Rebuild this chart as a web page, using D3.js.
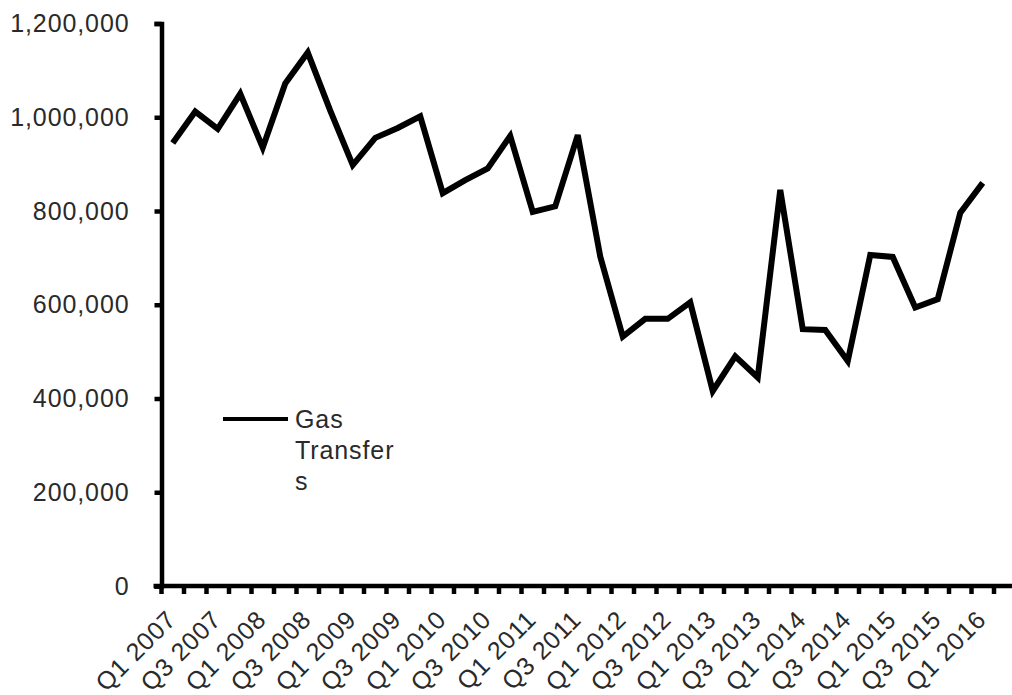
<!DOCTYPE html>
<html>
<head>
<meta charset="utf-8">
<script src="https://cdn.jsdelivr.net/npm/d3@7"></script>
<style>
  html, body { margin: 0; padding: 0; background: #fff; }
  svg { display: block; }
  text { font-family: "Liberation Sans", Arial, sans-serif; fill: #2a2a2a; }
</style>
</head>
<body>
<svg id="chart" width="1012" height="695"></svg>
<script>
// Quarterly gas transfers, Q1 2007 – Q1 2016 (Q2 2016 slot not yet reported)
const quarters = [
  "Q1 2007","Q2 2007","Q3 2007","Q4 2007",
  "Q1 2008","Q2 2008","Q3 2008","Q4 2008",
  "Q1 2009","Q2 2009","Q3 2009","Q4 2009",
  "Q1 2010","Q2 2010","Q3 2010","Q4 2010",
  "Q1 2011","Q2 2011","Q3 2011","Q4 2011",
  "Q1 2012","Q2 2012","Q3 2012","Q4 2012",
  "Q1 2013","Q2 2013","Q3 2013","Q4 2013",
  "Q1 2014","Q2 2014","Q3 2014","Q4 2014",
  "Q1 2015","Q2 2015","Q3 2015","Q4 2015",
  "Q1 2016","Q2 2016"
];
const gasTransfers = [
  945000, 1012000, 975000, 1050000,
  935000, 1072000, 1138000, 1014000,
  898000, 956000, 977000, 1002000,
  838000, 866000, 891000, 960000,
  798000, 810000, 962000, 703000,
  532000, 570000, 570000, 605000,
  416000, 490000, 445000, 845000,
  548000, 546000, 480000, 706000,
  702000, 594000, 612000, 796000,
  860000
];
const yTicks = [0, 200000, 400000, 600000, 800000, 1000000, 1200000];
const seriesName = ["Gas", "Transfer", "s"];

const svg = d3.select("#chart");
const plotLeft = 161.5, plotBottom = 586, plotTop = 23.5, bandW = 22.5;

const x = d3.scaleBand()
  .domain(quarters)
  .range([plotLeft, plotLeft + bandW * quarters.length])
  .paddingInner(0).paddingOuter(0);

const y = d3.scaleLinear().domain([0, 1200000]).range([plotBottom, plotTop]);

// y axis
const yAxis = svg.append("g")
  .attr("transform", `translate(${plotLeft},0)`)
  .call(d3.axisLeft(y).tickValues(yTicks).tickSize(7).tickPadding(25)
    .tickFormat(d3.format(",")));
yAxis.select(".domain").attr("stroke", "#000").attr("stroke-width", 4.5);
yAxis.selectAll(".tick line").attr("stroke", "#000").attr("stroke-width", 4.5);
yAxis.selectAll(".tick text")
  .attr("font-size", 25)
  .attr("letter-spacing", 0.9)
  .attr("font-family", "Liberation Sans, Arial, sans-serif")
  .attr("fill", "#2a2a2a");

// x axis: tick marks sit on category boundaries
const xg = svg.append("g");
const edges = quarters.map(q => x(q)).concat([x.range()[1]]);
xg.selectAll("line.tick")
  .data(edges)
  .join("line")
  .attr("class", "tick")
  .attr("x1", d => d).attr("x2", d => d)
  .attr("y1", plotBottom).attr("y2", plotBottom + 8)
  .attr("stroke", "#000").attr("stroke-width", 4.5);
xg.append("line")
  .attr("x1", plotLeft - 8).attr("x2", x.range()[1])
  .attr("y1", plotBottom).attr("y2", plotBottom)
  .attr("stroke", "#000").attr("stroke-width", 4.5);

xg.selectAll("text")
  .data(quarters.filter((q, i) => i % 2 === 0 && i < gasTransfers.length))
  .join("text")
  .attr("font-size", 25)
  .attr("letter-spacing", 0.8)
  .attr("text-anchor", "end")
  .attr("transform", d => `translate(${x(d) + x.bandwidth() / 2 + 5},${plotBottom + 35}) rotate(-45)`)
  .text(d => d);

// series line
const line = d3.line()
  .defined(d => d.v != null)
  .x(d => x(d.q) + x.bandwidth() / 2)
  .y(d => y(d.v));

const pts = quarters.map((q, i) => ({ q, v: i < gasTransfers.length ? gasTransfers[i] : null }));

svg.append("path")
  .datum(pts)
  .attr("fill", "none")
  .attr("stroke", "#000")
  .attr("stroke-width", 6)
  .attr("stroke-linejoin", "miter")
  .attr("d", line);

// legend
const lg = svg.append("g").attr("transform", "translate(223,419)");
lg.append("line")
  .attr("x1", 0).attr("x2", 65)
  .attr("y1", 0).attr("y2", 0)
  .attr("stroke", "#000").attr("stroke-width", 4);
lg.append("text")
  .attr("x", 72).attr("y", 9)
  .attr("font-size", 25)
  .attr("letter-spacing", 0.9)
  .selectAll("tspan")
  .data(seriesName)
  .join("tspan")
  .attr("x", 72)
  .attr("dy", (d, i) => i === 0 ? 0 : 31)
  .text(d => d);
</script>
</body>
</html>
